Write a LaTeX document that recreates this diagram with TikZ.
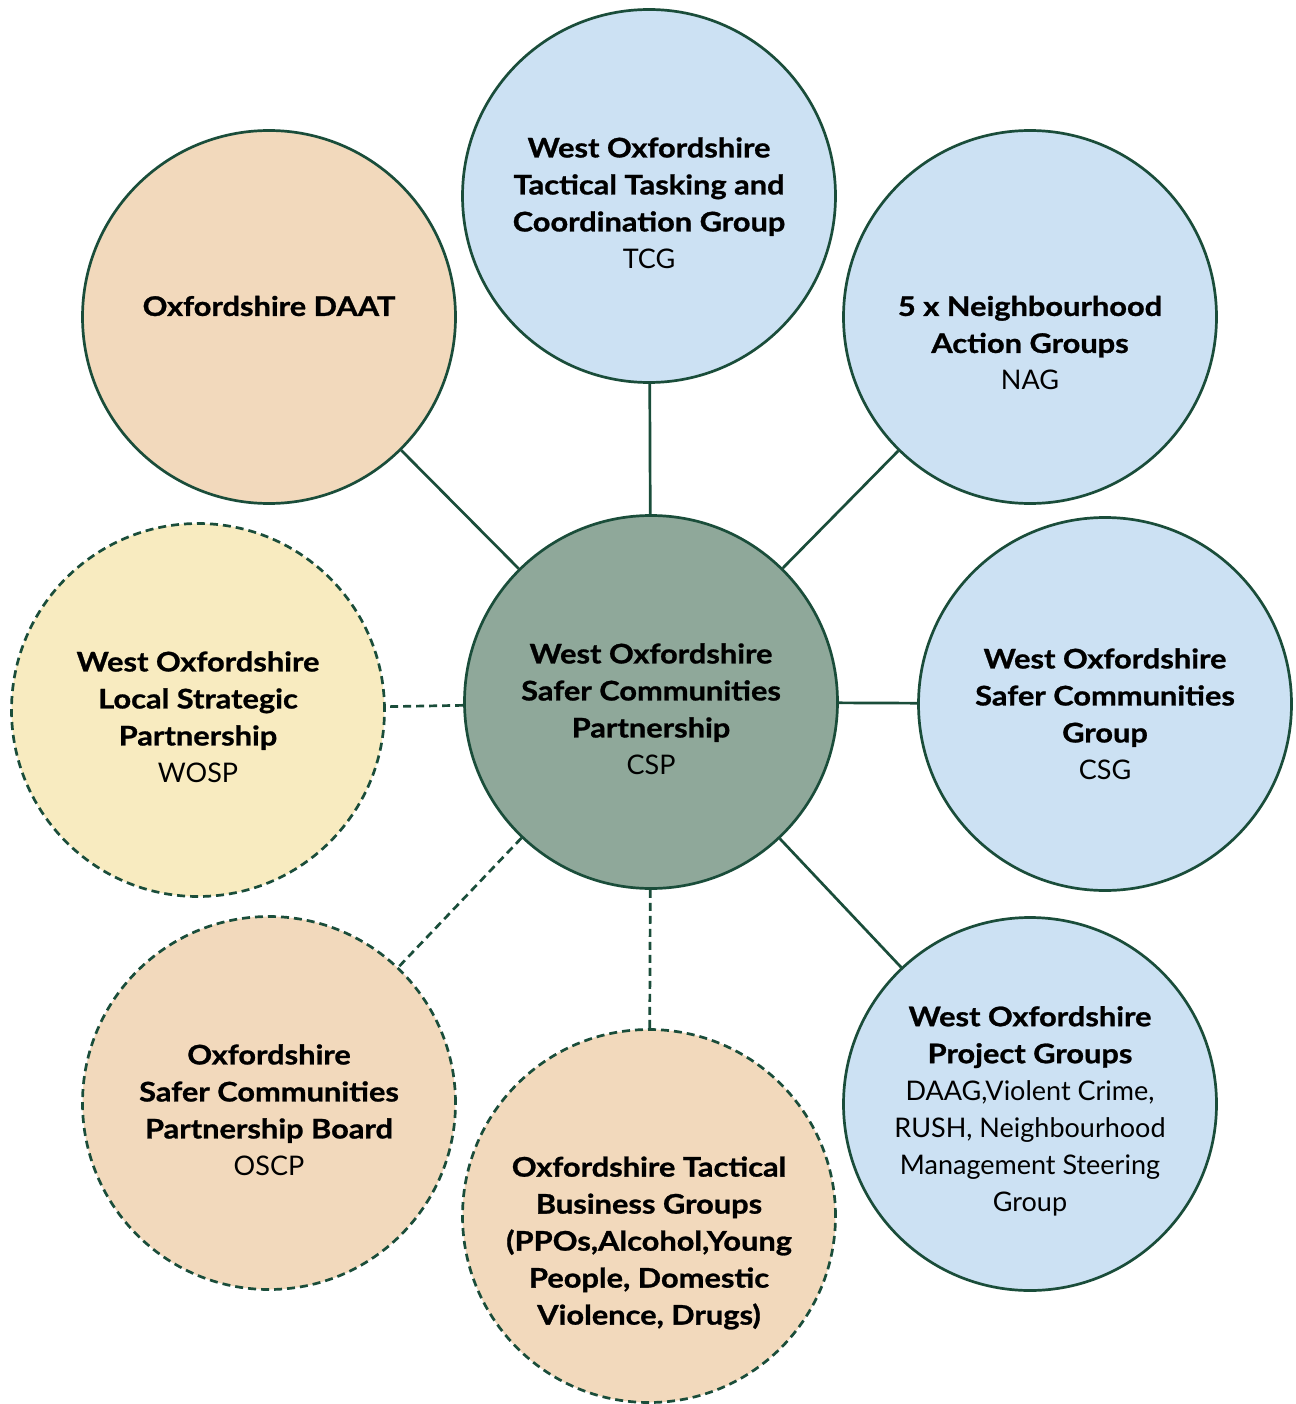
\documentclass[tikz,border=0pt]{standalone}
\usepackage{fontspec}
\setmainfont{Lato}[BoldFeatures={FakeStretch=1.14,FakeBold=1}]
\definecolor{lineg}{HTML}{1A4D3A}
\definecolor{cspfill}{HTML}{8FA89A}
\definecolor{bluefill}{HTML}{CCE1F3}
\definecolor{tanfill}{HTML}{F2D9BC}
\definecolor{yelfill}{HTML}{F8EBC0}
\tikzset{
  bubble/.style={circle, draw=lineg, line width=2.7pt, minimum size=373pt, inner sep=0pt},
  dashbubble/.style={bubble, dash pattern=on 8pt off 5pt},
  txt/.style={align=center, font=\fontsize{27}{37}\selectfont, text=black, inner sep=0pt},
  solidlink/.style={draw=lineg, line width=2.7pt},
  dashlink/.style={draw=lineg, line width=2.7pt, dash pattern=on 8pt off 5pt},
}
\begin{document}
\begin{tikzpicture}[x=1pt,y=-1pt]
\useasboundingbox (0,0) rectangle (1295,1404);
% circles
\node[bubble, fill=cspfill] (csp) at (651,702) {};
\node[bubble, fill=bluefill] (tcg) at (649,196) {};
\node[bubble, fill=tanfill] (daat) at (269,317) {};
\node[bubble, fill=bluefill] (nag) at (1030,317) {};
\node[bubble, fill=bluefill] (csg) at (1105,704) {};
\node[dashbubble, fill=yelfill] (wosp) at (198,710) {};
\node[dashbubble, fill=tanfill] (oscp) at (269,1103) {};
\node[dashbubble, fill=tanfill] (otbg) at (649,1216) {};
\node[bubble, fill=bluefill] (proj) at (1030,1104) {};
% connectors
\draw[solidlink] (csp) -- (tcg);
\draw[solidlink] (csp) -- (daat);
\draw[solidlink] (csp) -- (nag);
\draw[solidlink] (csp) -- (csg);
\draw[solidlink] (csp) -- (proj);
\draw[dashlink] (csp) -- (wosp);
\draw[dashlink] (csp) -- (oscp);
\draw[dashlink] (csp) -- (otbg);
% texts
\node[txt] (tcgt) at (649,203) {\textbf{West Oxfordshire}\\\textbf{Tactical Tasking and}\\\textbf{Coordination Group}\\TCG};
\node[txt] (daatt) at (269,306) {\textbf{Oxfordshire DAAT}};
\node[txt] (nagt) at (1030,343) {\textbf{5 x Neighbourhood}\\\textbf{Action Groups}\\NAG};
\node[txt] (cspt) at (651,709) {\textbf{West Oxfordshire}\\\textbf{Safer Communities}\\\textbf{Partnership}\\CSP};
\node[txt] (wospt) at (198,717) {\textbf{West Oxfordshire}\\\textbf{Local Strategic}\\\textbf{Partnership}\\WOSP};
\node[txt] (csgt) at (1105,714) {\textbf{West Oxfordshire}\\\textbf{Safer Communities}\\\textbf{Group}\\CSG};
\node[txt] (oscpt) at (269,1110) {\textbf{Oxfordshire}\\\textbf{Safer Communities}\\\textbf{Partnership Board}\\OSCP};
\node[txt] (otbgt) at (649,1243) {\textbf{Oxfordshire Tactical}\\\textbf{Business Groups}\\\textbf{(PPOs,Alcohol,Young}\\\textbf{People, Domestic}\\\textbf{Violence, Drugs)}};
\node[txt] (projt) at (1030,1111) {\textbf{West Oxfordshire}\\\textbf{Project Groups}\\DAAG,Violent Crime,\\RUSH, Neighbourhood\\Management Steering\\Group};
\end{tikzpicture}
\end{document}
